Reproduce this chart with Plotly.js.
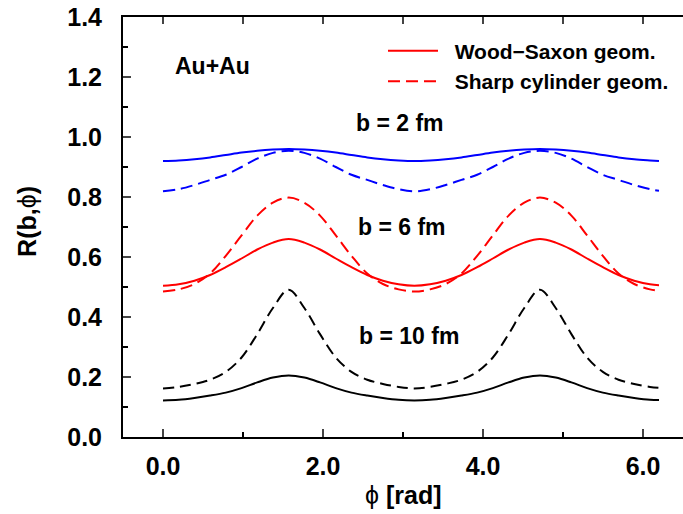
<!DOCTYPE html>
<html>
<head>
<meta charset="utf-8">
<script src="https://cdn.plot.ly/plotly-3.0.1.min.js"></script>
<style>html,body{margin:0;padding:0;background:#fff;}#chart{width:683px;height:514px;}</style>
</head>
<body>
<div id="chart"></div>
<script>
// azimuthal angle phi [rad]
var phi = [0, 0.196, 0.393, 0.589, 0.785, 0.982, 1.178, 1.374, 1.571, 1.767, 1.963, 2.160, 2.356, 2.553, 2.749, 2.945, 3.142,
           3.338, 3.534, 3.731, 3.927, 4.123, 4.320, 4.516, 4.712, 4.909, 5.105, 5.301, 5.498, 5.694, 5.890, 6.087, 6.2];

// b = 2 fm
var ws_b2 = [0.920,0.922,0.926,0.932,0.940,0.948,0.954,0.958,0.960, 0.958,0.954,0.948,0.940,0.932,0.926,0.922,0.920,
             0.922,0.926,0.932,0.940,0.948,0.954,0.958,0.960, 0.958,0.954,0.948,0.940,0.932,0.926,0.922, 0.920];
var sc_b2 = [0.819,0.826,0.840,0.857,0.874,0.900,0.928,0.947,0.954, 0.947,0.928,0.900,0.874,0.857,0.840,0.826,0.819,
             0.826,0.840,0.857,0.874,0.900,0.928,0.947,0.954, 0.947,0.928,0.900,0.874,0.857,0.840,0.826, 0.821];
// b = 6 fm
var ws_b6 = [0.504,0.509,0.521,0.540,0.566,0.595,0.625,0.648,0.660, 0.648,0.625,0.595,0.566,0.540,0.521,0.509,0.504,
             0.509,0.521,0.540,0.566,0.595,0.625,0.648,0.660, 0.648,0.625,0.595,0.566,0.540,0.521,0.509, 0.506];
var sc_b6 = [0.485,0.492,0.510,0.545,0.604,0.672,0.738,0.781,0.798, 0.781,0.738,0.672,0.604,0.545,0.510,0.492,0.485,
             0.492,0.510,0.545,0.604,0.672,0.738,0.781,0.798, 0.781,0.738,0.672,0.604,0.545,0.510,0.492, 0.487];
// b = 10 fm
var ws_b10 = [0.122,0.124,0.130,0.138,0.148,0.163,0.182,0.198,0.205, 0.198,0.182,0.163,0.148,0.138,0.130,0.124,0.122,
              0.124,0.130,0.138,0.148,0.163,0.182,0.198,0.205, 0.198,0.182,0.163,0.148,0.138,0.130,0.124, 0.123];
var sc_b10 = [0.162,0.167,0.177,0.191,0.217,0.265,0.343,0.430,0.491, 0.430,0.343,0.265,0.217,0.191,0.177,0.167,0.162,
              0.167,0.177,0.191,0.217,0.265,0.343,0.430,0.491, 0.430,0.343,0.265,0.217,0.191,0.177,0.167, 0.164];

var legendNames = ["\u00a0\u00a0Wood\u2212Saxon geom.", "\u00a0\u00a0Sharp cylinder geom."];
var xTickVals = [0, 2, 4, 6];
var xTickText = ["0.0", "2.0", "4.0", "6.0"];
var yTickVals = [0, 0.2, 0.4, 0.6, 0.8, 1.0, 1.2, 1.4];
var yTickText = ["0.0", "0.2", "0.4", "0.6", "0.8", "1.0", "1.2", "1.4"];

var FONT = "Liberation Sans, Arial, Helvetica, sans-serif";
function tr(y, color, dash, name, show) {
  return {x: phi, y: y, type: "scatter", mode: "lines", name: name || "", showlegend: !!show,
          line: {color: color, width: 2, dash: dash, shape: "spline", smoothing: 1}, hoverinfo: "skip"};
}
var data = [
  tr(ws_b6, "#ff0000", "solid", legendNames[0], true),
  tr(sc_b6, "#ff0000", "12px,6px", legendNames[1], true),
  tr(ws_b2, "#0000ff", "solid"),
  tr(sc_b2, "#0000ff", "12px,6px"),
  tr(ws_b10, "#000000", "solid"),
  tr(sc_b10, "#000000", "11px,6px"),
  {x: [0, 6], y: [0, 0], xaxis: "x2", yaxis: "y", mode: "lines", line: {width: 0, color: "rgba(0,0,0,0)"}, showlegend: false, hoverinfo: "skip"}
];

function px2x(p) { return (p - 123) / 560; }
function px2y(p) { return (437.3 - p) / 420; }
var bold = {family: FONT, size: 23, color: "#000", weight: "bold"};

var layout = {
  width: 683, height: 514,
  margin: {l: 123, r: 0, t: 17, b: 77, pad: 0},
  paper_bgcolor: "#fff", plot_bgcolor: "#fff",
  font: {family: FONT, color: "#000"},
  showlegend: true,
  legend: {x: px2x(383), y: px2y(31), xanchor: "left", yanchor: "top", bgcolor: "rgba(0,0,0,0)",
           font: {family: FONT, size: 21, color: "#000", weight: "bold"}, itemwidth: 50, tracegroupgap: 0},
  xaxis: {range: [-0.5, 6.5], tickvals: xTickVals, ticktext: xTickText, ticks: "inside", ticklen: 8, tickwidth: 2,
          showline: true, linewidth: 2, linecolor: "#000", showgrid: false, zeroline: false, mirror: false,
          tickfont: {family: FONT, size: 25, color: "#000", weight: "bold"}, ticklabelstandoff: 6,
          minor: {dtick: 1, tick0: 0, ticks: "inside", ticklen: 5, tickwidth: 1.5, tickcolor: "#000", showgrid: false}},
  xaxis2: {range: [-0.5, 6.5], overlaying: "x", side: "top", dtick: 1, tick0: 0, ticks: "inside", ticklen: 7, tickwidth: 2,
           showline: true, linewidth: 2, linecolor: "#000", showticklabels: false, showgrid: false, zeroline: false},
  yaxis: {range: [0, 1.4], tickvals: yTickVals, ticktext: yTickText, ticks: "inside", ticklen: 8, tickwidth: 2,
          showline: true, linewidth: 2, linecolor: "#000", showgrid: false, zeroline: false, mirror: false,
          tickfont: {family: FONT, size: 25, color: "#000", weight: "bold"}, ticklabelstandoff: 14,
          minor: {dtick: 0.1, tick0: 0, ticks: "inside", ticklen: 5, tickwidth: 1.5, tickcolor: "#000", showgrid: false}},
  annotations: [
    {text: "Au+Au", xref: "paper", yref: "paper", x: px2x(173), y: px2y(66), xanchor: "left", yanchor: "middle", showarrow: false, font: bold},
    {text: "b = 2 fm", xref: "paper", yref: "paper", x: px2x(400), y: px2y(123), xanchor: "center", yanchor: "middle", showarrow: false, font: bold},
    {text: "b = 6 fm", xref: "paper", yref: "paper", x: px2x(402), y: px2y(227.5), xanchor: "center", yanchor: "middle", showarrow: false, font: bold},
    {text: "b = 10 fm", xref: "paper", yref: "paper", x: px2x(409), y: px2y(336), xanchor: "center", yanchor: "middle", showarrow: false, font: bold},
    {text: "R(b,<span style='font-weight:normal'>\u03D5</span>)", xref: "paper", yref: "paper", x: px2x(27.5), y: px2y(221.7),
     xanchor: "center", yanchor: "middle", textangle: -90, showarrow: false, font: {family: FONT, size: 25, color: "#000", weight: "bold"}},
    {text: "<span style='font-weight:normal'>\u03D5</span> [rad]", xref: "paper", yref: "paper", x: px2x(403), y: px2y(495),
     xanchor: "center", yanchor: "middle", showarrow: false, font: {family: FONT, size: 25, color: "#000", weight: "bold"}}
  ]
};

Plotly.newPlot("chart", data, layout, {staticPlot: true, displayModeBar: false});
</script>
</body>
</html>
